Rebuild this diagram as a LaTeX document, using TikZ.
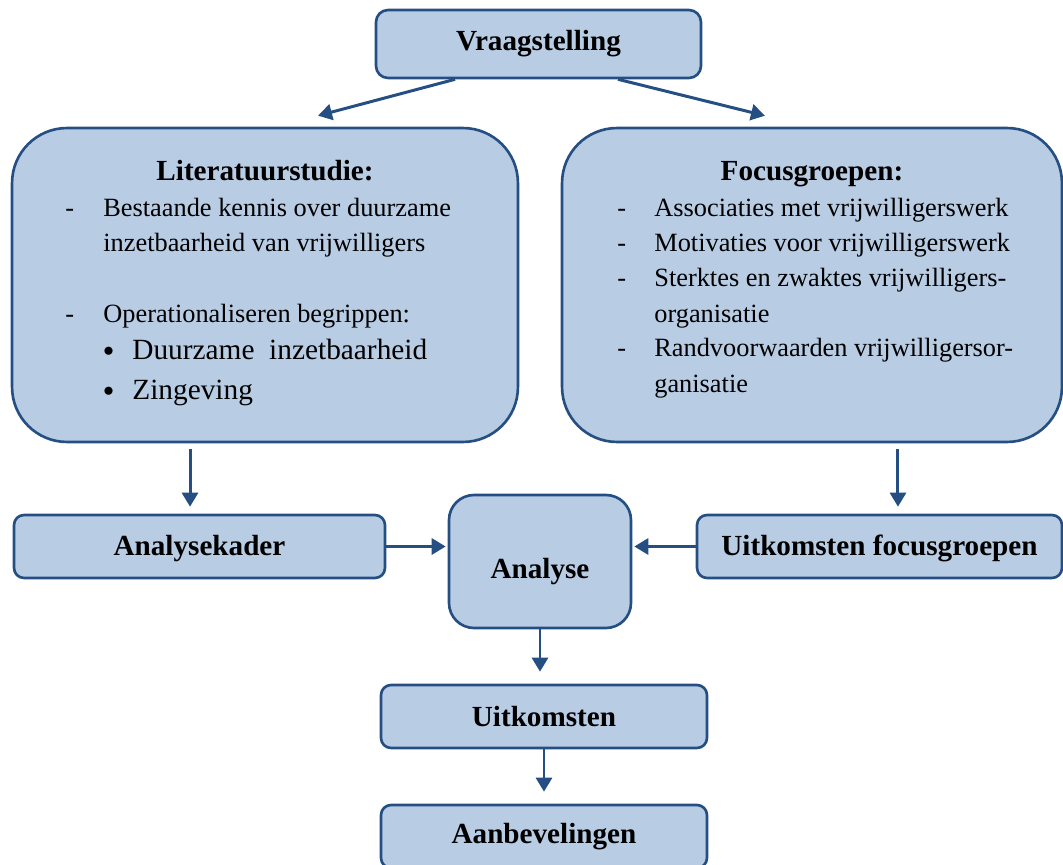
\documentclass[tikz,border=0pt]{standalone}
\usepackage{fontspec}
\setmainfont{Liberation Serif}
\usetikzlibrary{positioning,arrows.meta}
\definecolor{boxfill}{HTML}{B8CCE4}
\definecolor{boxline}{HTML}{254F82}

\begin{document}
\begin{tikzpicture}[
  x=0.02cm, y=-0.02cm,
  box/.style={rectangle, draw=boxline, fill=boxfill, line width=1.5pt, inner sep=0pt, font=\fontsize{16.6}{20}\selectfont\bfseries},
  bigbox/.style={box, rounded corners=1.1cm, minimum height=6.28cm},
  smallbox/.style={box, rounded corners=0.2cm, minimum height=1.26cm},
  head/.style={anchor=base, inner sep=0pt, font=\fontsize{16.6}{20}\selectfont\bfseries},
  item/.style={anchor=base west, inner sep=0pt, font=\fontsize{15}{18}\selectfont},
  bul/.style={anchor=base west, inner sep=0pt, font=\fontsize{16.7}{20}\selectfont},
  dot/.style={anchor=base west, inner sep=0pt, font=\fontsize{13}{16}\selectfont},
  arrow/.style={draw=boxline, line width=1.7pt, -{Triangle[length=0.28cm,width=0.32cm]}}
  ]
  \useasboundingbox (0,0) rectangle (1063,865);

  \node[box, rounded corners=0.24cm, minimum width=6.5cm, minimum height=1.36cm] (vraag) at (538.5,44) {Vraagstelling};
  \node[bigbox, minimum width=10.12cm] (lit) at (265,285) {};
  \node[bigbox, minimum width=10cm] (focus) at (812,285) {};
  \node[smallbox, minimum width=7.42cm] (kader) at (199.5,546.5) {\raisebox{-0.04cm}[\height][\depth]{Analysekader}};
  \node[box, rounded corners=0.5cm, minimum width=3.64cm, minimum height=2.66cm] (analyse) at (540,561.5) {\raisebox{-0.2cm}[\height][\depth]{Analyse}};
  \node[smallbox, minimum width=7.3cm] (ufocus) at (879.5,546.5) {\raisebox{-0.04cm}[\height][\depth]{Uitkomsten focusgroepen}};
  \node[smallbox, minimum width=6.52cm] (uitk) at (544,716.5) {Uitkomsten};
  \node[smallbox, minimum width=6.52cm] (aanbev) at (544,836.5) {Aanbevelingen};

  % literatuurstudie
  \node[head] (lithead) at (265,181) {Literatuurstudie:};
  \node[item] (litdash1) at (65,217) {-};
  \node[item] (lit1) at (103,217) {Bestaande kennis over duurzame};
  \node[item] (lit2) at (103,252) {inzetbaarheid van vrijwilligers};
  \node[item] (litdash2) at (65,322) {-};
  \node[item] (lit3) at (103,322) {Operationaliseren begrippen:};
  \node[dot] (litbul1) at (103,357) {$\bullet$};
  \node[bul] (lit4) at (132,359) {Duurzame\ \ inzetbaarheid};
  \node[dot] (litbul2) at (103,397) {$\bullet$};
  \node[bul] (lit5) at (132,399) {Zingeving};

  % focusgroepen
  \node[head] (focushead) at (812,181) {Focusgroepen:};
  \foreach \y/\n in {217/1, 252/2, 287/3, 357/4}
    \node[item] (focusdash\n) at (617,\y) {-};
  \node[item] (focus1) at (654,217) {Associaties met vrijwilligerswerk};
  \node[item] (focus2) at (654,252) {Motivaties voor vrijwilligerswerk};
  \node[item] (focus3) at (654,287) {Sterktes en zwaktes vrijwilligers-};
  \node[item] (focus4) at (654,322) {organisatie};
  \node[item] (focus5) at (654,357) {Randvoorwaarden vrijwilligersor-};
  \node[item] (focus6) at (654,393) {ganisatie};

  \draw[arrow] ([xshift=-1.67cm]vraag.south) -- ([xshift=1.06cm,yshift=0.22cm]lit.north);
  \draw[arrow] ([xshift=1.59cm]vraag.south) -- ([xshift=-0.94cm,yshift=0.22cm]focus.north);
  \draw[arrow, shorten <=0.12cm, shorten >=0.14cm] ([xshift=-1.5cm]lit.south) -- ([xshift=-1.5cm]lit.south |- kader.north);
  \draw[arrow, shorten <=0.12cm, shorten >=0.14cm] ([xshift=1.72cm]focus.south) -- ([xshift=1.72cm]focus.south |- ufocus.north);
  \draw[arrow, shorten >=0.04cm] (kader.east) -- (kader.east -| analyse.west);
  \draw[arrow, shorten >=0.04cm] (ufocus.west) -- (ufocus.west -| analyse.east);
  \draw[arrow, shorten >=0.24cm] (analyse.south) -- (analyse.south |- uitk.north);
  \draw[arrow, shorten >=0.24cm] (uitk.south) -- (uitk.south |- aanbev.north);
\end{tikzpicture}
\end{document}
